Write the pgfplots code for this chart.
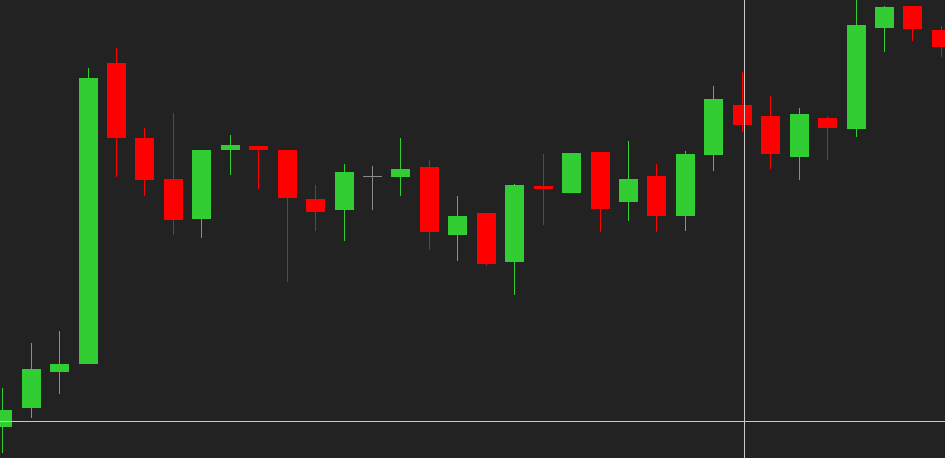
\documentclass[border=0pt]{standalone}
\usepackage{pgfplots}
\usepackage{pgfplotstable}
\pgfplotsset{compat=1.18}
\definecolor{bg}{HTML}{222222}
\definecolor{up}{HTML}{32CD32}
\definecolor{down}{HTML}{FF0000}
\definecolor{doji}{HTML}{8A8A8A}
\definecolor{cross}{HTML}{C8C8C8}
% x open high low close
\pgfplotstableread{
x open high low close
2.5 31.3 70 5 48
31.5 50.3 115.3 40.3 89
59.5 86.3 127 64 94
88.5 94 390 94 380
201.5 239 308 220.3 308
230.5 308 323 283 313
344.5 248 294 217.3 286
400.5 281 320 262 289
457.5 223 262 197 242
514.5 196 274 163 273
571.5 265 305 265 305
628.5 256 317 237 279
685.5 242 307 227 304
713.5 303 372 287 359
799.5 301 350 278 344
856.5 329 458 321 433
884.5 430 452 406 451
}\upT
\pgfplotstableread{
x open high low close
116.5 395.3 409.7 281.3 320.3
144.5 320.3 330 262 278
173.5 279 344.7 223 238
258.5 312.3 312.3 268.7 308
287.5 308 308 175.7 260
315.5 259 273 227.3 246
429.5 291 298 208 226.3
486.5 245 245 192.3 194
543.5 272 304 233 269
600.5 306 306 226 249
656.5 282 294 226 242
742.5 353 386 326 333
770.5 342 362 289 304
827.5 340 342 298 330
912.5 452 452 417 429
941.5 428 432 401 411
}\downT
\pgfplotstableread{
x open high low close
372.5 281.5 292 248 281.5
}\dojiT
\begin{document}
\begin{tikzpicture}
\fill[bg] (0,0) rectangle (472.5pt,229pt);
\begin{axis}[
  width=472.5pt, height=229pt, scale only axis,
  xmin=0, xmax=945, ymin=0, ymax=458,
  axis lines=none, ticks=none,
  clip=true,
]
% wicks
\addplot[draw=none, mark=none, forget plot,
  error bars/.cd, y dir=plus, y explicit, error mark=none,
  error bar style={up, line width=0.65pt}]
  table[x=x, y=low, y error plus expr=\thisrow{high}-\thisrow{low}] {\upT};
\addplot[draw=none, mark=none, forget plot,
  error bars/.cd, y dir=plus, y explicit, error mark=none,
  error bar style={down, line width=0.65pt}]
  table[x=x, y=low, y error plus expr=\thisrow{high}-\thisrow{low}] {\downT};
\addplot[draw=none, mark=none, forget plot,
  error bars/.cd, y dir=plus, y explicit, error mark=none,
  error bar style={doji, line width=0.65pt}]
  table[x=x, y=low, y error plus expr=\thisrow{high}-\thisrow{low}] {\dojiT};
% bodies
\addplot[draw=none, mark=none, forget plot,
  error bars/.cd, y dir=plus, y explicit, error mark=none,
  error bar style={up, line width=9.5pt}]
  table[x=x, y=open, y error plus expr=\thisrow{close}-\thisrow{open}] {\upT};
\addplot[draw=none, mark=none, forget plot,
  error bars/.cd, y dir=plus, y explicit, error mark=none,
  error bar style={down, line width=9.5pt}]
  table[x=x, y=close, y error plus expr=\thisrow{open}-\thisrow{close}] {\downT};
% doji body (horizontal tick)
\addplot[doji, line width=0.65pt, mark=-, mark size=4.75pt, only marks,
  mark options={line width=0.65pt}, forget plot]
  table[x=x, y=open] {\dojiT};
% crosshair
\addplot[cross, line width=0.6pt, mark=none] coordinates {(744.5,0) (744.5,458)};
\addplot[cross, line width=0.6pt, mark=none] coordinates {(0,36.5) (945,36.5)};
\end{axis}
\pgfresetboundingbox
\useasboundingbox (0,0) rectangle (472.5pt,229pt);
\end{tikzpicture}
\end{document}
